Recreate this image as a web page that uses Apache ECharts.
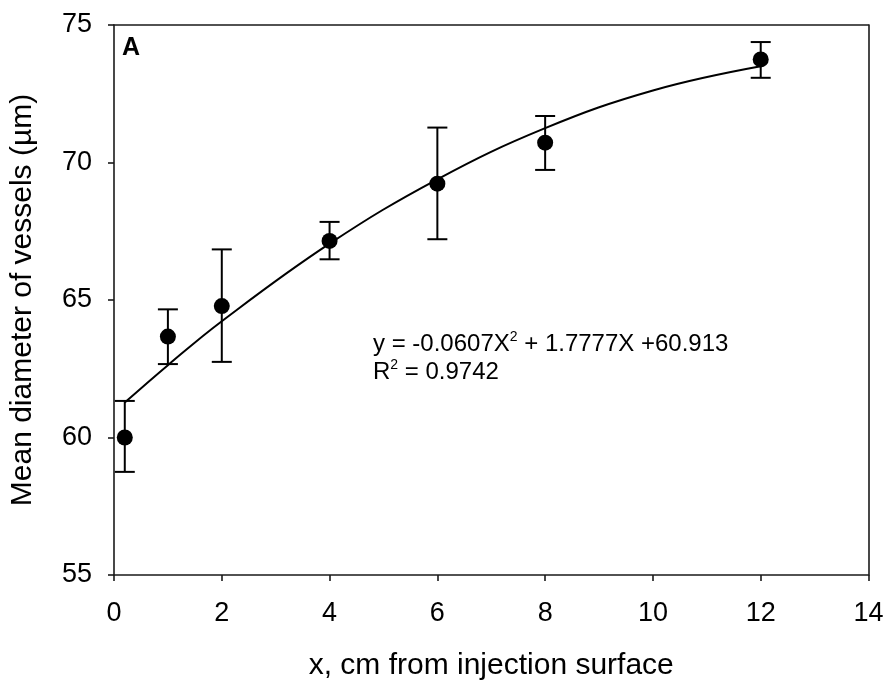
<!DOCTYPE html>
<html>
<head>
<meta charset="utf-8">
<script src="https://cdn.jsdelivr.net/npm/echarts@6/dist/echarts.min.js"></script>
<style>html,body{margin:0;padding:0;background:#fff}#c{width:887px;height:683px}</style>
</head>
<body>
<div id="c"></div>
<script>
var xValues = [0.2, 1, 2, 4, 6, 8, 12];
var meanValues = [60.0, 63.67, 64.78, 67.15, 69.23, 70.72, 73.75];
var upperValues = [61.33, 64.66, 66.84, 67.84, 71.27, 71.69, 74.38];
var lowerValues = [58.75, 62.67, 62.75, 66.48, 67.21, 69.73, 73.08];

// Trend curve
var fitX = [0.2, 1, 2, 4, 6, 8, 10, 12];
var fitY = [61.27, 62.63, 64.23, 67.05, 69.39, 71.25, 72.62, 73.50];

var xTicks = [0, 2, 4, 6, 8, 10, 12, 14];
var yTicks = [55, 60, 65, 70, 75];

var FONT = 'Liberation Sans, Arial, sans-serif';
var chart = echarts.init(document.getElementById('c'), null, {renderer: 'canvas'});

var pts = xValues.map(function (x, i) { return [x, meanValues[i]]; });
var errs = xValues.map(function (x, i) { return [x, lowerValues[i], upperValues[i]]; });
var fit = fitX.map(function (x, i) { return [x, fitY[i]]; });

var axisLineStyle = {color: '#1a1a1a', width: 1.6};

chart.setOption({
  animation: false,
  backgroundColor: '#fff',
  grid: {left: 114, right: 18.5, top: 25, bottom: 108, containLabel: false, outerBoundsMode: 'none'},
  xAxis: [{
    type: 'value', min: xTicks[0], max: xTicks[xTicks.length - 1], interval: 2,
    name: 'x, cm from injection surface', nameLocation: 'middle', nameGap: 76,
    nameTextStyle: {fontFamily: FONT, fontSize: 30, color: '#000'},
    axisLine: {show: true, lineStyle: axisLineStyle},
    axisTick: {show: true, inside: false, length: 6, lineStyle: axisLineStyle},
    axisLabel: {fontFamily: FONT, fontSize: 27, color: '#000', margin: 25},
    splitLine: {show: false}
  }, {
    type: 'value', position: 'top', min: 0, max: 14,
    axisLine: {show: true, onZero: false, lineStyle: axisLineStyle},
    axisTick: {show: false}, axisLabel: {show: false}, splitLine: {show: false}
  }],
  yAxis: [{
    type: 'value', min: yTicks[0], max: yTicks[yTicks.length - 1], interval: 5,
    name: 'Mean diameter of vessels (\u00b5m)', nameLocation: 'middle', nameGap: 76,
    nameTextStyle: {fontFamily: FONT, fontSize: 30, color: '#000'},
    axisLine: {show: true, onZero: false, lineStyle: axisLineStyle},
    axisTick: {show: true, inside: false, length: 6, lineStyle: axisLineStyle},
    axisLabel: {fontFamily: FONT, fontSize: 27, color: '#000', margin: 22},
    splitLine: {show: false}
  }, {
    type: 'value', position: 'right', min: 55, max: 75,
    axisLine: {show: true, onZero: false, lineStyle: axisLineStyle},
    axisTick: {show: false}, axisLabel: {show: false}, splitLine: {show: false}
  }],
  graphic: [{
    type: 'text', left: 122, top: 36,
    style: {text: 'A', font: 'bold 25px ' + FONT, fill: '#000'}
  }, {
    type: 'text', left: 373, top: 330,
    style: {
      text: '{n|y = -0.0607X}{s|2}{n| + 1.7777X +60.913}\n{n|R}{s|2}{n| = 0.9742}',
      rich: {
        n: {fontFamily: FONT, fontSize: 24, color: '#000', lineHeight: 28},
        s: {fontFamily: FONT, fontSize: 14, color: '#000', lineHeight: 28, verticalAlign: 'top', padding: [0, 0, 12, 0]}
      }
    }
  }],
  series: [{
    type: 'line', data: fit, smooth: 0.4, symbol: 'none',
    lineStyle: {color: '#000', width: 2}, z: 2
  }, {
    type: 'custom', data: errs, z: 3,
    renderItem: function (params, api) {
      var x = api.value(0);
      var lo = api.coord([x, api.value(1)]);
      var hi = api.coord([x, api.value(2)]);
      var hw = 10;
      var st = {stroke: '#000', lineWidth: 2};
      return {type: 'group', children: [
        {type: 'line', shape: {x1: lo[0], y1: lo[1], x2: hi[0], y2: hi[1]}, style: st},
        {type: 'line', shape: {x1: lo[0] - hw, y1: lo[1], x2: lo[0] + hw, y2: lo[1]}, style: st},
        {type: 'line', shape: {x1: hi[0] - hw, y1: hi[1], x2: hi[0] + hw, y2: hi[1]}, style: st}
      ]};
    }
  }, {
    type: 'scatter', data: pts, symbol: 'circle', symbolSize: 16,
    itemStyle: {color: '#000', opacity: 1}, z: 4
  }]
});
</script>
</body>
</html>
